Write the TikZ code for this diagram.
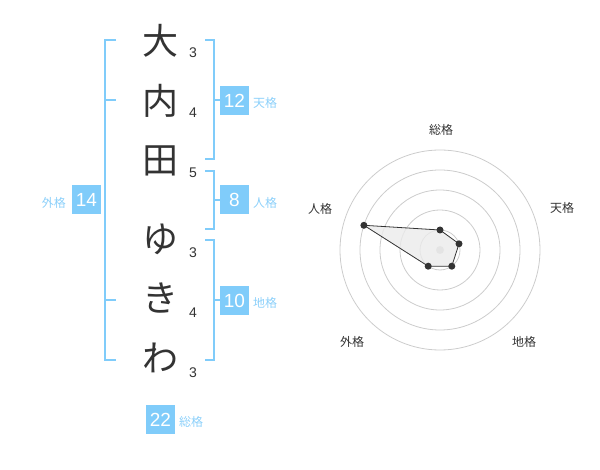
\documentclass[tikz,border=0pt]{standalone}
\usepackage{fontspec}
\setmainfont{Liberation Sans}
\newfontfamily\cjk{Noto Sans CJK JP}
\definecolor{bline}{RGB}{128,204,250}
\definecolor{bbox}{RGB}{128,204,250}
\definecolor{btext}{RGB}{140,208,250}
\definecolor{ink}{RGB}{51,51,51}
\definecolor{ring}{RGB}{204,204,204}
\tikzset{
  bigchar/.style={font=\cjk\fontsize{36}{36}\selectfont, text=ink, inner sep=0pt},
  stroke/.style={font=\fontsize{14}{14}\selectfont, text=ink, inner sep=0pt},
  numbox/.style={fill=bbox, text=white, minimum width=29pt, minimum height=29pt, inner sep=0pt, font=\fontsize{19}{19}\selectfont},
  kaku/.style={font=\cjk\fontsize{12}{12}\selectfont, text=btext, inner sep=0pt},
  bracket/.style={draw=bline, line width=2pt},
  axislabel/.style={font=\cjk\fontsize{12}{12}\selectfont, text=ink, inner sep=0pt},
  ringline/.style={draw=ring, line width=0.8pt},
  dot/.style={circle, fill=ink, inner sep=0pt, minimum size=7pt},
}
\begin{document}
\begin{tikzpicture}[x=1pt,y=-1pt]
\useasboundingbox (0,0) rectangle (600,470);
% characters
\node[bigchar] (c1) at (160,41) {大};
\node[bigchar] (c2) at (160,101) {内};
\node[bigchar] (c3) at (160,161) {田};
\node[bigchar] (c4) at (160,239) {ゆ};
\node[bigchar] (c5) at (160,298) {き};
\node[bigchar] (c6) at (160,358) {わ};
% stroke counts
\node[stroke] (s1) at (193,53) {3};
\node[stroke] (s2) at (193,113) {4};
\node[stroke] (s3) at (193,172.5) {5};
\node[stroke] (s4) at (193,252.5) {3};
\node[stroke] (s5) at (193,313) {4};
\node[stroke] (s6) at (193,373) {3};
% left bracket (外格)
\draw[bracket] (116,40) -- (105,40) -- (105,360) -- (116,360);
\draw[bracket] (105,100) -- (116,100);
\draw[bracket] (105,300) -- (116,300);
% right brackets
\draw[bracket] (205,40) -- (214,40) -- (214,159) -- (205,159);
\draw[bracket] (214,100) -- (220,100);
\draw[bracket] (205,171) -- (214,171) -- (214,229) -- (205,229);
\draw[bracket] (214,200) -- (220,200);
\draw[bracket] (205,240) -- (214,240) -- (214,360) -- (205,360);
\draw[bracket] (214,300) -- (220,300);
% boxes
\node[numbox] (b12) at (234.5,100.5) {12};
\node[kaku, anchor=west] (k12) at (253,103) {天格};
\node[numbox] (b8) at (234.5,200) {8};
\node[kaku, anchor=west] (k8) at (253,203) {人格};
\node[numbox] (b10) at (234.5,300.5) {10};
\node[kaku, anchor=west] (k10) at (253,303) {地格};
\node[numbox] (b14) at (86.5,200) {14};
\node[kaku, anchor=east] (k14) at (66,203) {外格};
\node[numbox] (b22) at (160.5,419.5) {22};
\node[kaku, anchor=west] (k22) at (179,422) {総格};
% radar
\coordinate (ctr) at (440,250);
\foreach \r in {20,40,60,80,100} \draw[ringline] (ctr) circle[radius=\r];
\fill[ring] (ctr) circle[radius=4];
\coordinate (p1) at (440,230);
\coordinate (p2) at (459.0,243.8);
\coordinate (p3) at (451.8,266.2);
\coordinate (p4) at (428.2,266.2);
\coordinate (p5) at (363.9,225.3);
\filldraw[fill=black!8, fill opacity=0.8, draw=ink, line width=0.8pt] (p1) -- (p2) -- (p3) -- (p4) -- (p5) -- cycle;
\foreach \p in {p1,p2,p3,p4,p5} \node[dot] at (\p) {};
\node[axislabel] (a1) at (441,130) {総格};
\node[axislabel] (a2) at (562,208) {天格};
\node[axislabel] (a3) at (524,342) {地格};
\node[axislabel] (a4) at (352,342) {外格};
\node[axislabel] (a5) at (320,209) {人格};
\end{tikzpicture}
\end{document}
